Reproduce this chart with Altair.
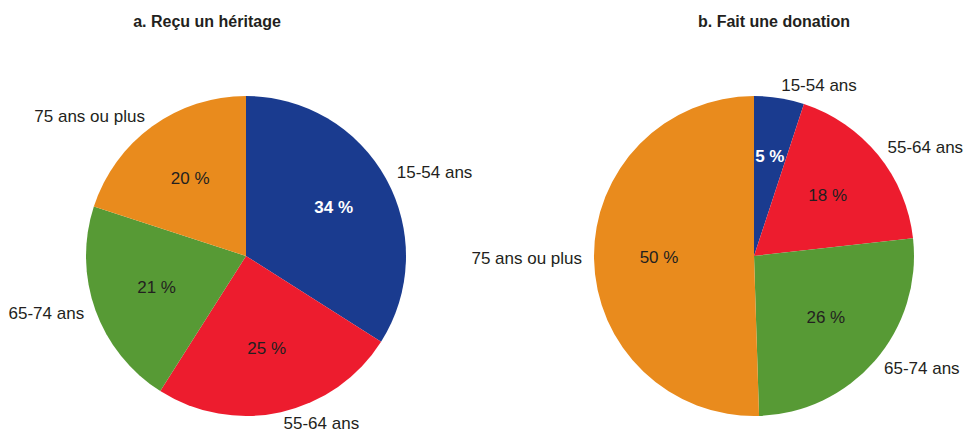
import altair as alt
import pandas as pd

ages = ["15-54 ans", "55-64 ans", "65-74 ans", "75 ans ou plus"]
heritage = [34, 25, 21, 20]
donation = [5, 18, 26, 50]
colors = ["#1a3b8f", "#ed1c2e", "#579a35", "#e98b1d"]
titles = ["a. Reçu un héritage", "b. Fait une donation"]

FONT = "Liberation Sans"
FS = 17
W, H = 956, 432
R = 160


def make_df(values):
    total = sum(values)
    rows = []
    cum = 0
    for i, (a, v) in enumerate(zip(ages, values)):
        mid = cum + v / 2
        cum += v
        rows.append({
            "age": a, "value": v, "order": i, "mid": mid,
            "side": "R" if mid < total / 2 else "L",
            "pct": f"{v} %", "first": i == 0,
        })
    return pd.DataFrame(rows), total


def pie(values, cx, cy):
    df, total = make_df(values)
    base = alt.Chart(df)
    tscale = alt.Scale(domain=[0, total], range=[0, 6.283185307179586])
    arc = base.mark_arc().encode(
        theta=alt.Theta("value:Q", stack=True, scale=tscale),
        order=alt.Order("order:Q"),
        color=alt.Color("age:N", scale=alt.Scale(domain=ages, range=colors), legend=None),
        x=alt.value(cx), y=alt.value(cy), radius=alt.value(R),
    )
    tenc = dict(theta=alt.Theta("mid:Q", stack=False, scale=tscale),
                x=alt.value(cx), y=alt.value(cy))
    pct_dark = base.transform_filter(alt.datum.first == False).mark_text(
        font=FONT, fontSize=FS, color="#231f20", baseline="middle", align="center"
    ).encode(text="pct:N", radius=alt.value(95), **tenc)
    pct_white = base.transform_filter(alt.datum.first == True).mark_text(
        font=FONT, fontSize=FS, fontWeight="bold", color="white", baseline="middle", align="center"
    ).encode(text="pct:N", radius=alt.value(100), **tenc)
    lab_r = base.transform_filter(alt.datum.side == "R").mark_text(
        font=FONT, fontSize=FS, color="#231f20", baseline="middle", align="left"
    ).encode(text="age:N", radius=alt.value(172), **tenc)
    lab_l = base.transform_filter(alt.datum.side == "L").mark_text(
        font=FONT, fontSize=FS, color="#231f20", baseline="middle", align="right"
    ).encode(text="age:N", radius=alt.value(172), **tenc)
    return [arc, pct_dark, pct_white, lab_r, lab_l]


tdf = pd.DataFrame({"t": titles, "i": [0, 1]})
title_l = alt.Chart(tdf).transform_filter(alt.datum.i == 0).mark_text(
    font=FONT, fontSize=16, fontWeight="bold", color="#231f20", baseline="middle"
).encode(text="t:N", x=alt.value(199), y=alt.value(14))
title_r = alt.Chart(tdf).transform_filter(alt.datum.i == 1).mark_text(
    font=FONT, fontSize=16, fontWeight="bold", color="#231f20", baseline="middle"
).encode(text="t:N", x=alt.value(766), y=alt.value(14))

layers = pie(heritage, 238, 248) + pie(donation, 746, 248) + [title_l, title_r]

chart = alt.layer(*layers).resolve_scale(theta="independent").properties(
    width=W, height=H, autosize=alt.AutoSizeParams(type="none"), padding=0
).configure_view(stroke=None)

chart.save("out.html", embed_options={"renderer": "svg", "actions": False})
